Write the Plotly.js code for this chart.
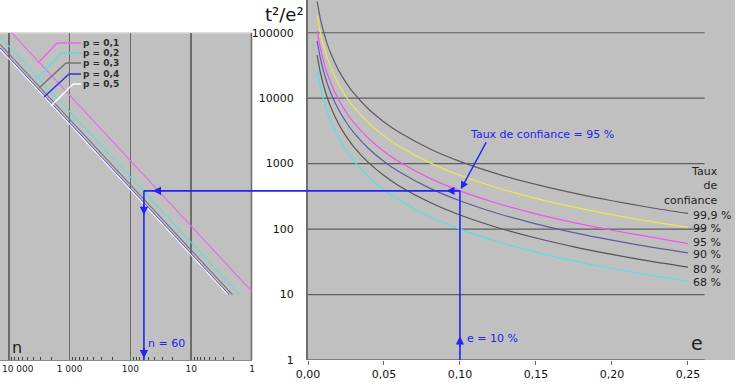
<!DOCTYPE html>
<html><head><meta charset="utf-8">
<script src="https://cdn.plot.ly/plotly-3.0.1.min.js"></script>
<style>html,body{margin:0;padding:0;background:#fff;}#chart{width:753px;height:389px;}</style>
</head><body><div id="chart"></div>
<script>
// ---- Right panel: t²/e² as a function of e, per confidence level ----
const eValues = [0.006, 0.008, 0.01, 0.0125, 0.015, 0.02, 0.025, 0.03, 0.04, 0.05, 0.06, 0.08, 0.10, 0.125, 0.15, 0.175, 0.20, 0.225, 0.25];
const conf999 = [300800, 169200, 108300, 69310, 48130, 27080, 17330, 12030, 6769, 4332, 3008, 1692, 1083, 693, 481, 353.6, 270.8, 213.9, 173.3];
const conf99  = [184300, 103700, 66350, 42460, 29490, 16590, 10620, 7372, 4147, 2654, 1843, 1037, 663.5, 424.6, 294.9, 216.6, 165.9, 131.0, 106.2];
const conf95  = [106700, 60030, 38420, 24590, 17070, 9604, 6147, 4268, 2401, 1537, 1067, 600, 384, 246, 170.7, 125.4, 96.0, 75.9, 60.0];
const conf90  = [75170, 42280, 27060, 17320, 12030, 6765, 4330, 3006, 1691, 1082, 752, 423, 271, 173, 120.3, 88.4, 67.7, 53.4, 43.3];
const conf80  = [45620, 25660, 16420, 10510, 7300, 4106, 2628, 1825, 1027, 657, 456, 257, 164, 105, 73.0, 53.6, 41.1, 32.4, 26.3];
const conf68  = [27780, 15630, 10000, 6400, 4444, 2500, 1600, 1111, 625, 400, 278, 156, 100, 64, 44.4, 32.7, 25, 19.8, 16];
const confLabels = ['99,9 %', '99 %', '95 %', '90 %', '80 %', '68 %'];
const confSeries = [conf999, conf99, conf95, conf90, conf80, conf68];
const confColors = ['#625a62', '#e8e850', '#ee55ee', '#5c5ca6', '#555555', '#55e2e2'];
const confLabelShift = [-2.5, -1.5, 1.5, -2, -2, -1];

const eTickVals = [0, 0.05, 0.10, 0.15, 0.20, 0.25];
const eTickText = ['0,00', '0,05', '0,10', '0,15', '0,20', '0,25'];
const yTickVals = [1, 10, 100, 1000, 10000, 100000];
const yTickText = ['1', '10', '100', '1000', '10000', '100000'];

// ---- Left panel: n versus t²/e², per proportion p ----
const nP01 = [12000, 1000, 100, 10, 1];
const yP01 = [133300, 11110, 1111, 111.1, 11.1];
const nP02 = [20000, 1000, 100, 10, 1.6];
const yP02 = [125000, 6250, 625, 62.5, 10];
const nP03 = [25000, 1000, 100, 10, 2.1];
const yP03 = [119000, 4762, 476, 47.6, 10];
const nP04 = [30000, 1000, 100, 10, 2.4];
const yP04 = [125000, 4167, 417, 41.7, 10];
const nP05 = [30000, 1000, 100, 10, 2.5];
const yP05 = [120000, 4000, 400, 40, 10];
const pLabels = ['p = 0,1', 'p = 0,2', 'p = 0,3', 'p = 0,4', 'p = 0,5'];
const pN = [nP01, nP02, nP03, nP04, nP05];
const pY = [yP01, yP02, yP03, yP04, yP05];
const pColors = ['#ee66ee', '#5ddede', '#747474', '#4848e0', '#ffffff'];

const nTickVals = [10000, 1000, 100, 10, 1];
const nTickText = ['10 000', '1 000', '100', '10', '1'];
const nMinor = [];
[1, 10, 100, 1000].forEach(d => { for (let k = 2; k <= 9; k++) nMinor.push(k * d); });

// ---- Worked example ----
const exampleE = 0.10;      // e = 10 %
const exampleT2E2 = 384;    // t²/e² read at 95 %
const exampleN = 60;        // n for p = 0,2

const BLUE = '#2323f2';
const W = 735, H = 360; // plot region in pixels (margins excluded)
const px = v => v / W;
const py = v => (H - v) / H;
const L10 = Math.log10;

const traces = [];
confSeries.forEach((s, i) => {
  traces.push({x: eValues, y: s, type: 'scatter', mode: 'lines', xaxis: 'x', yaxis: 'y',
    line: {color: confColors[i], width: 1.2, shape: 'spline', smoothing: 0.8}, hoverinfo: 'skip', showlegend: false});
});
pN.forEach((n, i) => {
  traces.push({x: n, y: pY[i], type: 'scatter', mode: 'lines', xaxis: 'x2', yaxis: 'y2',
    line: {color: pColors[i], width: 1.1}, hoverinfo: 'skip', showlegend: false});
});

const shapes = [];
// horizontal grid lines of the right panel (stop before the label column)
yTickVals.forEach(v => {
  shapes.push({type: 'line', xref: 'x', yref: 'y', x0: 0, x1: 0.261, y0: v, y1: v,
    line: {color: v === 1 ? '#6a6a6a' : '#5e5e5e', width: v === 1 ? 1.6 : 1.2}, layer: 'below'});
});
// left panel top border and right edge line
shapes.push({type: 'line', xref: 'paper', yref: 'paper', x0: 0, x1: px(252), y0: py(33), y1: py(33),
  line: {color: '#d6d6d6', width: 1.5}, layer: 'below'});
shapes.push({type: 'line', xref: 'paper', yref: 'paper', x0: px(251.5), x1: px(251.5), y0: py(33), y1: py(360),
  line: {color: '#6c6c6c', width: 1.5}, layer: 'below'});
// left legend leader lines
const leaders = [
  [57, 43, 38, 63], [61, 53, 37, 79], [66, 63, 39, 88], [69, 74, 44, 97], [73, 84, 51, 106]
];
leaders.forEach((l, i) => {
  shapes.push({type: 'line', xref: 'paper', yref: 'paper', x0: px(l[0]), y0: py(l[1]), x1: px(81), y1: py(l[1]),
    line: {color: i === 3 ? '#3030e8' : pColors[i], width: 1.5}});
  shapes.push({type: 'line', xref: 'paper', yref: 'paper', x0: px(l[0]), y0: py(l[1]), x1: px(l[2]), y1: py(l[3]),
    line: {color: i === 3 ? '#3030e8' : pColors[i], width: 1.5}});
});
// worked example lines
const bl = {color: BLUE, width: 1.6};
shapes.push({type: 'line', xref: 'x', yref: 'y', x0: exampleE, x1: exampleE, y0: 1, y1: exampleT2E2, line: bl});
shapes.push({type: 'line', xref: 'x', yref: 'y', x0: 0, x1: exampleE, y0: exampleT2E2, y1: exampleT2E2, line: bl});
shapes.push({type: 'line', xref: 'paper', yref: 'y', x0: px(251), x1: px(308), y0: exampleT2E2, y1: exampleT2E2, line: bl});
shapes.push({type: 'line', xref: 'x2', yref: 'y2', x0: 1, x1: exampleN, y0: exampleT2E2, y1: exampleT2E2, line: bl});
shapes.push({type: 'line', xref: 'x2', yref: 'y2', x0: exampleN, x1: exampleN, y0: exampleT2E2, y1: 1, line: bl});

const font = 'DejaVu Sans, Verdana, sans-serif';
const ann = [];
const arrowHead = (xref, yref, x, y, ax, ay) => ({xref, yref, x, y, ax, ay, axref: 'pixel', ayref: 'pixel', text: '',
  showarrow: true, arrowhead: 2, arrowsize: 1.1, arrowwidth: 1.5, arrowcolor: BLUE, standoff: 0});
ann.push(arrowHead('x', 'y', 0.091, L10(exampleT2E2), 12, 0));
ann.push(arrowHead('x2', 'y2', L10(43), L10(exampleT2E2), 12, 0));
ann.push(arrowHead('x2', 'y2', L10(exampleN), L10(164), 0, -12));
ann.push(arrowHead('x2', 'y2', L10(exampleN), L10(1.06), 0, -12));
ann.push(arrowHead('x', 'y', exampleE, L10(2.3), 0, 12));
ann.push({xref: 'x', yref: 'y', x: exampleE, y: L10(exampleT2E2), ax: 27, ay: -50, text: '', showarrow: true,
  arrowhead: 2, arrowsize: 1.1, arrowwidth: 1.4, arrowcolor: BLUE, standoff: 2});
const blueText = (t, x, y) => ({xref: 'paper', yref: 'paper', x: px(x), y: py(y), xanchor: 'left', yanchor: 'middle',
  text: t, showarrow: false, font: {family: font, size: 11, color: BLUE}});
ann.push(blueText('Taux de confiance = 95 %', 468, 134));
ann.push(blueText('e = 10 %', 465, 338));
ann.push(blueText('n = 60', 146, 343));

// confidence labels at the right end of each curve
confSeries.forEach((s, i) => {
  ann.push({xref: 'x', yref: 'y', x: eValues[eValues.length - 1], y: L10(s[s.length - 1]), xanchor: 'left', yanchor: 'middle',
    xshift: 3, yshift: confLabelShift[i], text: confLabels[i], showarrow: false, font: {family: font, size: 11, color: '#1e1e1e'}});
});
ann.push({xref: 'paper', yref: 'paper', x: px(720), y: py(186), xanchor: 'right', yanchor: 'middle', align: 'right',
  text: 'Taux<br>de<br>confiance', showarrow: false, font: {family: font, size: 11, color: '#1e1e1e'}});
// p legend labels
pLabels.forEach((t, i) => {
  ann.push({xref: 'paper', yref: 'paper', x: px(81), y: py(leaders[i][1]), xanchor: 'left', yanchor: 'middle',
    text: '<b>' + t + '</b>', showarrow: false, font: {family: font, size: 9, color: '#2e2e2e'}});
});
// first tick label of the n axis is kept inside the picture
ann.push({xref: 'paper', yref: 'paper', x: px(17.5), y: py(369), xanchor: 'center', yanchor: 'middle',
  text: nTickText[0], showarrow: false, font: {family: font, size: 9, color: '#222'}});
// axis labels
ann.push({xref: 'paper', yref: 'paper', x: px(284), y: py(15), xanchor: 'center', yanchor: 'middle',
  text: 't²/e²', showarrow: false, font: {family: font, size: 18, color: '#111'}});
ann.push({xref: 'paper', yref: 'paper', x: px(697), y: py(343), xanchor: 'center', yanchor: 'middle',
  text: 'e', showarrow: false, font: {family: font, size: 19, color: '#222'}});
ann.push({xref: 'paper', yref: 'paper', x: px(17), y: py(347), xanchor: 'center', yanchor: 'middle',
  text: 'n', showarrow: false, font: {family: font, size: 16, color: '#222'}});

const layout = {
  width: 753, height: 389,
  margin: {l: 0, r: 18, t: 0, b: 29, pad: 0},
  paper_bgcolor: '#ffffff', plot_bgcolor: '#c0c0c0',
  separators: ', ',
  showlegend: false,
  font: {family: font, color: '#111'},
  xaxis: {domain: [308 / W, 1], range: [0, 0.281], anchor: 'y', tickvals: eTickVals, ticktext: eTickText,
    ticks: 'outside', ticklen: 4, tickcolor: '#666', tickwidth: 1, showgrid: false, zeroline: false, showline: false,
    tickfont: {family: font, size: 11, color: '#111'}},
  yaxis: {domain: [0, 1], type: 'log', range: [0, 5.5], anchor: 'x', tickvals: yTickVals, ticktext: yTickText,
    ticks: '', showgrid: false, zeroline: false, showline: true, linecolor: '#6e6e6e', linewidth: 2,
    ticklabelstandoff: 10, tickfont: {family: font, size: 11, color: '#111'}},
  xaxis2: {domain: [0, 252 / W], type: 'log', range: [Math.log10(14000), 0], anchor: 'y2',
    tickvals: nTickVals, ticktext: ['', '1 000', '100', '10', '1'], ticks: '', showgrid: true, gridcolor: '#6c6c6c', gridwidth: 1.5,
    zeroline: false, showline: true, linecolor: '#8a8a8a', linewidth: 1,
    minor: {tickvals: nMinor, ticks: 'inside', ticklen: 3, tickcolor: '#444', tickwidth: 1, showgrid: false},
    tickfont: {family: font, size: 9, color: '#222'}},
  yaxis2: {domain: [0, 5 / 5.5], type: 'log', range: [0, 5], anchor: 'x2', showticklabels: false, ticks: '',
    showgrid: false, zeroline: false, showline: false},
  shapes: shapes,
  annotations: ann
};

Plotly.newPlot('chart', traces, layout, {staticPlot: true, displayModeBar: false});
</script>
</body></html>
